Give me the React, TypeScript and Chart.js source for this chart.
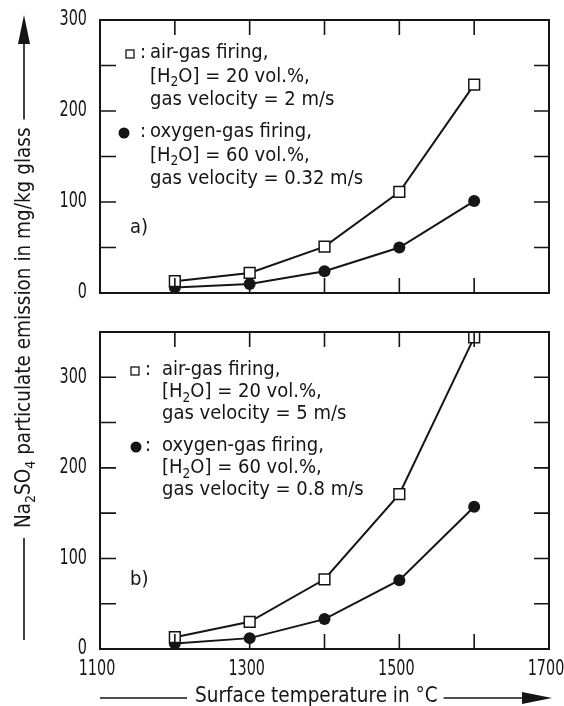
import React, { useEffect, useRef } from 'react';
import { Chart, registerables } from 'chart.js';
Chart.register(...registerables);

const FONT = '"DejaVu Sans Condensed", "Liberation Sans Narrow", "Open Sans", sans-serif';
const INK = '#151515';

// data
const temperatures = [1200, 1300, 1400, 1500, 1600];
const airGasA = [13, 22, 51, 111, 229];
const oxyGasA = [6, 10, 24, 50, 101];
const airGasB = [13, 30, 77, 171, 344];
const oxyGasB = [6, 12, 33, 76, 157];

// axes / ticks
const xRange = [1100, 1700];
const xTickLabels = [1100, 1300, 1500, 1700];
const xMinorTicks = [1200, 1300, 1400, 1500, 1600];
const yRangeA = [0, 300];
const yRangeB = [0, 350];
const yTickLabelsA = [0, 100, 200, 300];
const yTickLabelsB = [0, 100, 200, 300];
const yMinorTicksA = [50, 100, 150, 200, 250];
const yMinorTicksB = [50, 100, 150, 200, 250, 300];

// texts
const legendA = [
  ['air-gas firing,', '[H_2O] = 20 vol.%,', 'gas velocity = 2 m/s'],
  ['oxygen-gas firing,', '[H_2O] = 60 vol.%,', 'gas velocity = 0.32 m/s'],
];
const legendB = [
  ['air-gas firing,', '[H_2O] = 20 vol.%,', 'gas velocity = 5 m/s'],
  ['oxygen-gas firing,', '[H_2O] = 60 vol.%,', 'gas velocity = 0.8 m/s'],
];
const panelLabelA = 'a)';
const panelLabelB = 'b)';
const xTitle = 'Surface temperature in °C';
const yTitle = 'Na_2SO_4 particulate emission in mg/kg glass';

const FS = 20;
const TICK_FS = 21;
const TICK_SQUEEZE = 0.76;
const TITLE_FS = 20.5;

function richWidth(ctx: CanvasRenderingContext2D, text: string, size: number) {
  const parts = text.split(/_(\d)/);
  let w = 0;
  parts.forEach((p, i) => {
    ctx.font = `${i % 2 ? size * 0.68 : size}px ${FONT}`;
    w += ctx.measureText(p).width;
  });
  return w;
}

function drawRich(ctx: CanvasRenderingContext2D, text: string, x: number, y: number, size: number) {
  const parts = text.split(/_(\d)/);
  let cx = x;
  ctx.textBaseline = 'middle';
  ctx.textAlign = 'left';
  parts.forEach((p, i) => {
    const sub = i % 2 === 1;
    ctx.font = `${sub ? size * 0.68 : size}px ${FONT}`;
    ctx.fillText(p, cx, sub ? y + size * 0.32 : y);
    cx += ctx.measureText(p).width;
  });
  return cx;
}

function drawSqueezed(ctx: CanvasRenderingContext2D, text: string, x: number, y: number, align: 'center' | 'right') {
  ctx.save();
  ctx.font = `${TICK_FS}px ${FONT}`;
  ctx.textBaseline = 'middle';
  ctx.textAlign = align;
  ctx.translate(x, y);
  ctx.scale(TICK_SQUEEZE, 1);
  ctx.fillText(text, 0, 0);
  ctx.restore();
}

const decoPlugin = {
  id: 'deco',
  afterDraw(chart: any) {
    const o = chart.options.plugins.deco;
    if (!o) return;
    const ctx: CanvasRenderingContext2D = chart.ctx;
    const { left, right, top, bottom } = chart.chartArea;
    const xs = chart.scales.x;
    const ys = chart.scales.y;
    ctx.save();
    ctx.strokeStyle = INK;
    ctx.fillStyle = INK;
    // frame
    ctx.lineWidth = 2;
    ctx.strokeRect(left, top, right - left, bottom - top);
    // ticks
    ctx.lineWidth = 1.6;
    ctx.beginPath();
    o.xTicks.forEach((v: number) => {
      const px = xs.getPixelForValue(v);
      ctx.moveTo(px, top); ctx.lineTo(px, top + 15);
      ctx.moveTo(px, bottom); ctx.lineTo(px, bottom - 15);
    });
    o.yTicks.forEach((v: number) => {
      const py = ys.getPixelForValue(v);
      ctx.moveTo(left, py); ctx.lineTo(left + 16, py);
      ctx.moveTo(right, py); ctx.lineTo(right - 15, py);
    });
    ctx.stroke();
    // tick labels (narrow, engineering style)
    ys.ticks.forEach((t: any) => {
      drawSqueezed(ctx, String(t.value), left - 13, ys.getPixelForValue(t.value), 'right');
    });
    if (o.showX) {
      xs.ticks.forEach((t: any) => {
        drawSqueezed(ctx, String(t.value), xs.getPixelForValue(t.value) - 3, bottom + 21, 'center');
      });
    }
    // legend
    const lg = o.legend;
    lg.groups.forEach((lines: string[], gi: number) => {
      const y0 = top + lg.y0 + gi * lg.groupGap;
      const mx = left + (gi === 0 ? lg.squareX : lg.circleX);
      if (gi === 0) {
        ctx.fillStyle = '#fff';
        ctx.lineWidth = 1.3;
        ctx.fillRect(mx - 4, y0 - 3, 8, 8);
        ctx.strokeRect(mx - 4, y0 - 3, 8, 8);
        ctx.fillStyle = INK;
      } else {
        ctx.beginPath();
        ctx.arc(mx, y0 + 1, 5.5, 0, Math.PI * 2);
        ctx.fill();
      }
      drawRich(ctx, ':', left + lg.colonX, y0, FS);
      lines.forEach((t, li) => drawRich(ctx, t, left + lg.textX, y0 + li * lg.lineH, FS));
    });
    // panel label
    drawRich(ctx, o.panelLabel, left + o.panelPos[0], top + o.panelPos[1], FS);

    if (o.titles) {
      ctx.lineWidth = 1.6;
      // x title
      const ty = 697;
      const tx = 195;
      const tw = richWidth(ctx, xTitle, TITLE_FS);
      drawRich(ctx, xTitle, tx, ty, TITLE_FS);
      ctx.beginPath();
      ctx.moveTo(100, ty + 1); ctx.lineTo(tx - 8, ty + 1);
      ctx.moveTo(tx + tw + 6, ty + 1); ctx.lineTo(530, ty + 1);
      ctx.stroke();
      ctx.beginPath();
      ctx.moveTo(552, ty + 1); ctx.lineTo(522, ty - 5); ctx.lineTo(522, ty + 7); ctx.closePath();
      ctx.fill();
      // y title
      const yx = 25;
      const yStart = 528;
      const yw = richWidth(ctx, yTitle, TITLE_FS);
      ctx.save();
      ctx.translate(yx, yStart);
      ctx.rotate(-Math.PI / 2);
      drawRich(ctx, yTitle, 0, 0, TITLE_FS);
      ctx.restore();
      ctx.beginPath();
      ctx.moveTo(yx - 1, 640); ctx.lineTo(yx - 1, yStart + 10);
      ctx.moveTo(yx - 1, yStart - yw - 8); ctx.lineTo(yx - 1, 40);
      ctx.stroke();
      ctx.beginPath();
      ctx.moveTo(yx - 1, 15); ctx.lineTo(yx - 7, 44); ctx.lineTo(yx + 5, 44); ctx.closePath();
      ctx.fill();
    }
    ctx.restore();
  },
};

function makeConfig(air: number[], oxy: number[], yRange: number[], yLabels: number[], showX: boolean, padding: any, deco: any): any {
  return {
    type: 'line',
    data: {
      datasets: [
        {
          data: temperatures.map((t, i) => ({ x: t, y: air[i] })),
          borderColor: INK,
          borderWidth: 2,
          pointStyle: 'rect',
          pointRadius: 7.6,
          pointBackgroundColor: '#fff',
          pointBorderColor: INK,
          pointBorderWidth: 1.5,
          tension: 0,
        },
        {
          data: temperatures.map((t, i) => ({ x: t, y: oxy[i] })),
          borderColor: INK,
          borderWidth: 2,
          pointStyle: 'circle',
          pointRadius: 6,
          pointBackgroundColor: INK,
          pointBorderColor: INK,
          pointBorderWidth: 0,
          tension: 0,
        },
      ],
    },
    options: {
      responsive: false,
      animation: false,
      layout: { padding },
      plugins: { legend: { display: false }, tooltip: { enabled: false }, deco: { ...deco, showX } },
      scales: {
        x: {
          type: 'linear',
          min: xRange[0],
          max: xRange[1],
          display: showX,
          grid: { display: false, drawTicks: false },
          border: { display: false },
          afterBuildTicks: (s: any) => { s.ticks = xTickLabels.map((v) => ({ value: v })); },
          afterFit: (s: any) => {
            s.height = showX ? 57 : 0;
            s.paddingLeft = 0; s.paddingRight = 0;
          },
          ticks: { display: false },
        },
        y: {
          type: 'linear',
          min: yRange[0],
          max: yRange[1],
          grid: { display: false, drawTicks: false },
          border: { display: false },
          afterBuildTicks: (s: any) => { s.ticks = yLabels.map((v) => ({ value: v })); },
          afterFit: (s: any) => { s.width = 100; s.paddingTop = 0; s.paddingBottom = 0; },
          ticks: { display: false },
        },
      },
    },
    plugins: [decoPlugin],
  };
}

export default function App() {
  const refA = useRef<HTMLCanvasElement>(null);
  const refB = useRef<HTMLCanvasElement>(null);
  useEffect(() => {
    document.body.style.background = '#fff';
    const a = new Chart(refA.current!, makeConfig(airGasA, oxyGasA, yRangeA, yTickLabelsA, false,
      { top: 20, right: 15, bottom: 413, left: 0 },
      {
        xTicks: xMinorTicks, yTicks: yMinorTicksA,
        legend: { groups: legendA, y0: 33, lineH: 23.5, groupGap: 79, squareX: 30, circleX: 24, colonX: 40, textX: 50 },
        panelLabel: panelLabelA, panelPos: [30, 208], titles: false,
      }));
    const b = new Chart(refB.current!, makeConfig(airGasB, oxyGasB, yRangeB, yTickLabelsB, true,
      { top: 332, right: 15, bottom: 0, left: 0 },
      {
        xTicks: xMinorTicks, yTicks: yMinorTicksB,
        legend: { groups: legendB, y0: 38, lineH: 22, groupGap: 76, squareX: 35, circleX: 36, colonX: 45, textX: 62 },
        panelLabel: panelLabelB, panelPos: [30, 248], titles: true,
      }));
    return () => { a.destroy(); b.destroy(); };
  }, []);
  return (
    <div style={{ position: 'absolute', left: 0, top: 0, width: 564, height: 706, background: '#fff' }}>
      <canvas ref={refA} width={564} height={706} style={{ position: 'absolute', left: 0, top: 0 }} />
      <canvas ref={refB} width={564} height={706} style={{ position: 'absolute', left: 0, top: 0 }} />
    </div>
  );
}
